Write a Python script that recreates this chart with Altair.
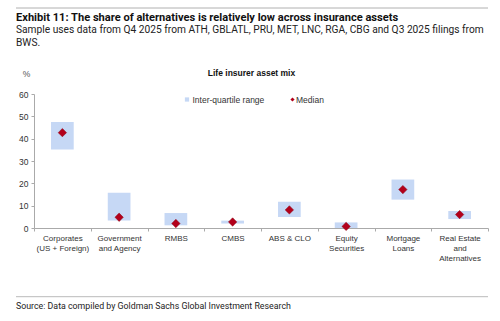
import altair as alt
import pandas as pd

categories = ["Corporates (US + Foreign)", "Government and Agency", "RMBS", "CMBS",
              "ABS & CLO", "Equity Securities", "Mortgage Loans", "Real Estate and Alternatives"]
tick_labels = ["Corporates|(US + Foreign)", "Government|and Agency", "RMBS", "CMBS",
               "ABS & CLO", "Equity|Securities", "Mortgage|Loans", "Real Estate|and|Alternatives"]
y_ticks = [0, 10, 20, 30, 40, 50, 60]
q1 = [35.1, 3.4, 1.2, 2.0, 4.9, 0.0, 12.7, 4.0]
q3 = [47.5, 15.8, 6.7, 3.3, 11.8, 2.5, 21.7, 7.6]
median = [42.7, 4.8, 2.0, 2.7, 8.1, 0.7, 17.2, 6.0]
legend_labels = ["Inter-quartile range", "Median"]

df = pd.DataFrame({"cat": tick_labels, "q1": q1, "q3": q3, "median": median, "name": categories})

W, H = 454, 134
order = tick_labels

xaxis = alt.Axis(labelExpr="split(datum.label, '|')", labelAngle=0,
                 labelFont="Liberation Sans", labelFontSize=8, labelColor="#333333",
                 labelBaseline="top", labelPadding=3, labelLineHeight=10,
                 tickBand="extent", tickSize=3, tickColor="#aaaaaa",
                 domainColor="#aaaaaa", labelLimit=200, labelOverlap=False)
yaxis = alt.Axis(values=y_ticks, grid=False, labelOverlap=False,
                 labelFont="Liberation Sans", labelFontSize=8.5, labelColor="#333333",
                 tickSize=3, tickColor="#aaaaaa", domainColor="#aaaaaa", labelPadding=3,
                 titleAngle=0, titleX=-8, titleY=-21, titleAlign="center",
                 titleBaseline="middle", titleFont="Liberation Sans",
                 titleFontSize=8.5, titleFontWeight="normal", titleColor="#555555")
xscale = alt.Scale(paddingInner=0, paddingOuter=0)
yscale = alt.Scale(domain=[0, 60], nice=False)

bars = alt.Chart(df).mark_bar(color="#c6d8f5", width=alt.RelativeBandSize(0.4)).encode(
    x=alt.X("cat:N", sort=order, title=None, scale=xscale, axis=xaxis),
    y=alt.Y("q1:Q", scale=yscale, title="%", axis=yaxis),
    y2="q3:Q",
)

points = alt.Chart(df).mark_point(shape="diamond", filled=True, color="#b3001b", size=70,
                                  stroke="#8a0010", strokeWidth=0.5, opacity=1).encode(
    x=alt.X("cat:N", sort=order, title=None, scale=xscale, axis=xaxis),
    y=alt.Y("median:Q", scale=yscale, title="%", axis=yaxis),
)

def txt(s, x, y, size, weight="normal", font="Liberation Sans", color="#000000", align="left"):
    return alt.Chart(pd.DataFrame({"t": [s]})).mark_text(
        align=align, baseline="alphabetic", fontSize=size, fontWeight=weight, font=font,
        color=color).encode(text="t:N", x=alt.value(x), y=alt.value(y))

title = txt("Exhibit 11: The share of alternatives is relatively low across insurance assets",
            -18, -73.5, 11.1, "bold", "Roboto", "#111111")
sub1 = txt("Sample uses data from Q4 2025 from ATH, GBLATL, PRU, MET, LNC, RGA, CBG and Q3 2025 filings from",
           -18, -61, 10.2, "normal", "Roboto", "#222222")
sub2 = txt("BWS.", -18, -48, 10.2, "normal", "Roboto", "#222222")
chart_title = txt("Life insurer asset mix", 217.5, -18, 8.5, "bold", "Liberation Sans", "#111111", "center")
source = txt("Source: Data compiled by Goldman Sachs Global Investment Research",
             -18, 214.5, 8.8, "normal", "Roboto", "#222222")

rule_df = pd.DataFrame({"k": [1]})
top_rule = alt.Chart(rule_df).mark_rule(color="#b0b0b0", strokeWidth=1).encode(
    x=alt.value(-18), x2=alt.value(454), y=alt.value(-86))
bottom_rule = alt.Chart(rule_df).mark_rule(color="#bbbbbb", strokeWidth=1).encode(
    x=alt.value(-18), x2=alt.value(454), y=alt.value(202.7))

leg_box = alt.Chart(pd.DataFrame({"t": [legend_labels[0]]})).mark_point(
    shape="square", filled=True, color="#c6d8f5", size=18, opacity=1).encode(
    x=alt.value(153), y=alt.value(5.5))
leg_box_t = alt.Chart(pd.DataFrame({"t": [legend_labels[0]]})).mark_text(
    align="left", baseline="middle", fontSize=8.5, font="Liberation Sans", color="#333333").encode(
    text="t:N", x=alt.value(158.5), y=alt.value(5.5))
leg_pt = alt.Chart(pd.DataFrame({"t": [legend_labels[1]]})).mark_point(
    shape="diamond", filled=True, color="#b3001b", size=18, opacity=1).encode(
    x=alt.value(258.5), y=alt.value(5.5))
leg_pt_t = alt.Chart(pd.DataFrame({"t": [legend_labels[1]]})).mark_text(
    align="left", baseline="middle", fontSize=8.5, font="Liberation Sans", color="#333333").encode(
    text="t:N", x=alt.value(262), y=alt.value(5.5))

chart = alt.layer(bars, points, title, sub1, sub2, chart_title, source, top_rule, bottom_rule,
                  leg_box, leg_box_t, leg_pt, leg_pt_t).properties(
    width=W, height=H,
    autosize=alt.AutoSizeParams(type="none"),
    padding={"left": 34, "top": 94, "right": 12, "bottom": 93},
).configure_view(stroke=None)

chart.save("out.html", embed_options={"renderer": "svg", "actions": False})
